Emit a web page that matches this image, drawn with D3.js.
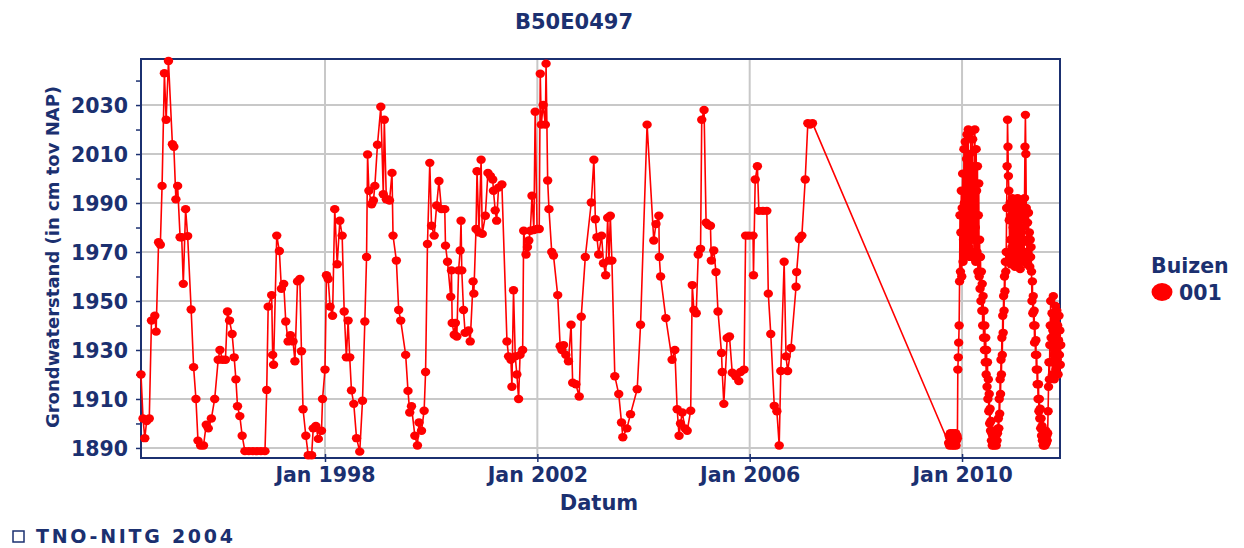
<!DOCTYPE html>
<html>
<head>
<meta charset="utf-8">
<script src="https://cdn.jsdelivr.net/npm/d3@7"></script>
<style>
  html, body { margin: 0; padding: 0; background: #ffffff; }
  svg { display: block; }
  text { font-family: "DejaVu Sans", Verdana, sans-serif; font-weight: bold; fill: #1b3070; }
</style>
</head>
<body>
<svg id="chart" width="1244" height="548"></svg>
<script>
// ---------------- data ----------------
const chartTitle = "B50E0497";
const xAxisTitle = "Datum";
const yAxisTitle = "Grondwaterstand (in cm tov NAP)";
const legendTitle = "Buizen";
const seriesName = "001";
const footerText = "TNO-NITG 2004";

const xTickDates = ["1998-01-01", "2002-01-01", "2006-01-01", "2010-01-01"];
const yTickValues = [1890, 1900, 1910, 1920, 1930, 1940, 1950, 1960, 1970, 1980, 1990, 2000, 2010, 2020, 2030, 2040];
const yLabelValues = [1890, 1910, 1930, 1950, 1970, 1990, 2010, 2030];

// manual measurements 1994 - 2007
const manualDates = [
"1994-07-15","1994-07-29","1994-08-10","1994-08-23","1994-09-10","1994-09-25","1994-10-18","1994-10-27","1994-11-13","1994-11-25",
"1994-12-07","1994-12-23","1995-01-04","1995-01-20","1995-02-16","1995-02-26","1995-03-12","1995-03-24","1995-04-10","1995-04-21",
"1995-05-02","1995-05-18","1995-06-01","1995-06-25","1995-07-12","1995-07-28","1995-08-11","1995-08-29","1995-09-18","1995-10-07",
"1995-10-21","1995-11-11","1995-12-04","1995-12-28","1996-01-09","1996-01-26","1996-02-16","1996-03-01","1996-03-15","1996-04-02",
"1996-04-16","1996-04-28","1996-05-09","1996-05-25","1996-06-10","1996-06-29","1996-07-26","1996-08-23","1996-09-20","1996-10-17",
"1996-11-14","1996-11-26","1996-12-06","1996-12-30","1997-01-06","1997-01-12","1997-02-03","1997-02-21","1997-03-07","1997-03-23",
"1997-04-06","1997-04-22","1997-05-08","1997-05-26","1997-06-08","1997-06-26","1997-07-12","1997-07-23","1997-08-03","1997-08-22",
"1997-09-08","1997-10-01","1997-10-12","1997-10-30","1997-11-16","1997-12-08","1997-12-15","1998-01-01","1998-01-11","1998-01-23",
"1998-02-05","1998-02-22","1998-03-09","1998-03-26","1998-04-13","1998-04-29","1998-05-13","1998-05-28","1998-06-09","1998-06-20",
"1998-07-02","1998-07-18","1998-08-06","1998-08-28","1998-09-16","1998-10-02","1998-10-14","1998-10-21","1998-10-30","1998-11-18",
"1998-11-30","1998-12-10","1998-12-28","1999-01-20","1999-02-06","1999-02-13","1999-02-27","1999-03-10","1999-03-21","1999-04-07",
"1999-04-14","1999-05-07","1999-05-23","1999-06-06","1999-07-10","1999-07-26","1999-08-07","1999-08-19","1999-09-11","1999-09-29",
"1999-10-10","1999-10-27","1999-11-14","1999-11-24","1999-12-07","1999-12-23","2000-01-04","2000-01-22","2000-02-08","2000-02-24",
"2000-03-12","2000-04-04","2000-04-09","2000-04-23","2000-05-15","2000-05-20","2000-05-25","2000-06-08","2000-06-16","2000-06-26",
"2000-07-08","2000-07-19","2000-07-25","2000-07-30","2000-08-11","2000-08-22","2000-09-15","2000-09-26","2000-10-16","2000-10-21",
"2000-11-05","2000-11-12","2000-11-25","2000-12-10","2000-12-18","2001-01-08","2001-01-26","2001-02-12","2001-02-28","2001-03-05",
"2001-03-17","2001-03-27","2001-04-09","2001-05-02","2001-06-06","2001-06-17","2001-07-03","2001-07-10","2001-07-21","2001-08-02",
"2001-08-13","2001-08-25","2001-09-04","2001-09-22","2001-09-29","2001-10-15","2001-10-25","2001-11-03","2001-11-14","2001-11-25",
"2001-12-08","2001-12-17","2001-12-30","2002-01-14","2002-01-21","2002-01-28","2002-02-10","2002-02-25","2002-03-02","2002-03-13",
"2002-03-22","2002-04-10","2002-04-22","2002-05-21","2002-06-07","2002-06-19","2002-06-30","2002-07-16","2002-08-03","2002-08-21",
"2002-09-01","2002-09-23","2002-10-16","2002-10-30","2002-11-27","2003-01-07","2003-01-25","2003-02-04","2003-02-15","2003-02-27",
"2003-03-19","2003-04-01","2003-04-16","2003-04-30","2003-05-09","2003-05-18","2003-05-29","2003-06-18","2003-07-15","2003-08-03",
"2003-08-12","2003-09-09","2003-10-04","2003-11-19","2003-12-12","2004-01-26","2004-03-12","2004-03-27","2004-04-16","2004-04-19",
"2004-04-28","2004-06-03","2004-07-16","2004-08-04","2004-08-20","2004-09-02","2004-09-12","2004-09-24","2004-10-13","2004-10-28",
"2004-11-21","2004-12-02","2004-12-13","2004-12-29","2005-01-12","2005-01-28","2005-02-05","2005-02-21","2005-03-07","2005-03-22",
"2005-04-06","2005-04-12","2005-04-29","2005-05-14","2005-05-28","2005-06-21","2005-06-26","2005-07-07","2005-07-30","2005-08-15",
"2005-09-03","2005-09-26","2005-10-18","2005-10-30","2005-11-23","2005-12-04","2005-12-26","2006-01-24","2006-01-27","2006-02-08",
"2006-02-23","2006-03-05","2006-04-02","2006-04-29","2006-05-09","2006-05-26","2006-06-19","2006-07-07","2006-07-23","2006-08-03",
"2006-08-26","2006-09-08","2006-09-19","2006-10-12","2006-11-16","2006-11-20","2006-12-08","2006-12-26","2007-01-18","2007-02-05",
"2007-02-20","2007-03-09"
];
const manualValues = [
1920,1902,1894,1901,1902,1942,1944,1937.5,1974,1973,
1997,2043,2024,2048,2014,2013,1991.5,1997,1976,1976,
1957,1987.5,1976.5,1946.5,1923,1910,1893,1891,1891,1899.5,
1898,1902,1910,1926,1930,1926,1926,1945.7,1942,1936.5,
1927,1918,1907,1903,1895,1888.7,1888.7,1888.7,1888.7,1888.7,
1888.7,1913.7,1947.7,1952.4,1928,1924,1976.7,1970.4,1955,1957,
1941.6,1933.5,1936,1933.5,1925.4,1958,1959,1929.5,1905.8,1895,
1887,1887,1898,1899,1893.7,1897,1910,1922,1960.5,1959,
1947.7,1944,1987.5,1965,1982.8,1976.7,1945.7,1927,1942,1927,
1913.5,1908,1894,1888.5,1909.3,1941.6,1968,2009.8,1995,1989.5,
1991,1997,2013.8,2029.3,1993.6,2024,1991.5,1991.5,1991,2002.3,
1976.7,1966.5,1946.3,1942,1928,1913.3,1904.5,1907,1895,1891,
1900.4,1897,1905.2,1921,1973.3,2006.4,1980.7,1976.7,1989,1999,
1987.5,1987.5,1972.6,1966,1951.7,1962.5,1941,1936.2,1941,1935.5,
1962.5,1970.6,1982.8,1962.5,1946.3,1937,1938,1933.5,1958,1953,
1979.4,2003,1978,2007.7,1977.4,1984.8,2002.3,2001,1999.6,1995,
1987,1982.8,1996.3,1997.6,1933.5,1927.4,1926,1915,1954.4,1927.4,
1920,1910,1928,1930,1978.7,1969,1972,1974.7,1978.7,1993,
1979,2027.3,1979.4,1979.4,2042.8,2022,2030,2022,2046.9,1999.2,
1987.5,1970,1968.6,1952.4,1931.5,1930,1932,1928,1925.4,1940.3,
1916.6,1916,1911,1943.6,1968,1990.2,2007.7,1983.4,1976,1969,
1976.7,1965.4,1960.5,1984,1966.5,1984.8,1966.5,1919.3,1912,1900.4,
1894.4,1898,1903.8,1914,1940.3,2022,1974.7,1981.4,1984.8,1968,
1960,1943,1926,1930,1905.8,1895,1900,1904.5,1898,1897,
1905.2,1956.5,1946.3,1945,1969,1971.3,2024,2028,1982,1981,
1980.7,1966.5,1970.6,1961.8,1945.7,1928.8,1921,1908,1934.9,1935.5,
1920.7,1919.3,1917.3,1921,1922,1976.7,1976.7,1976.7,1960.5,1999.6,
2005,1986.8,1986.8,1986.8,1953,1936.5,1907.2,1905,1891,1921.4,
1966,1927.4,1921.4,1930.8,1955.8,1961.8,1975.3,1976.7,1999.6,2022.6,
2022,2022.6
];

// logger measurements 2009 - 2011 (one reading every 3 days)
const loggerStart = "2009-10-01";
const loggerStepDays = 3;
const loggerValues = [
1892,1895,1891,1894,1896,1892,1893,1895,1891,1894,1896,1893,1891,1895,1892,1894,1896,1891,1893,1895,1894,
1922,1927,1933,1940,
1958,1985,1962,1978,1995,1960,1988,2002,1966,1975,2012,1990,1968,2015,1982,1970,2008,2018,1975,1995,
2020,1972,1985,2010,1968,2000,2019,1978,1970,1992,2016,1975,2005,1968,1988,2020,1980,1966,2012,1995,
1970,2005,1962,1985,1998,1960,
1975,1955,1968,1950,1962,1946,1957,1940,1952,1935,1946,1930,1940,1925,1935,1920,1930,1915,1925,1910,
1918,1905,1912,1900,1906,1897,1901,
1893,1896,1891,1895,1892,1897,1891,1894,1896,1892,1895,1891,1897,1893,1896,1898,
1902,1898,1910,1904,1918,1912,1926,1920,1935,1928,1944,1937,1952,1946,1960,1954,1966,1962,
1970,1988,2005,2024,2013,2001,1995,1983,1968,1990,1975,1965,1985,1972,1992,1966,1980,1988,1970,1976,
1964,1990,1978,1968,1985,1973,1992,1965,1982,1970,1988,1975,1963,1986,1971,1990,1968,1980,1974,1966,
1984,1970,1992,2013,2026,2010,1988,1975,1965,1982,1970,1986,1968,1978,1964,1975,1968,1972,
1962,1950,1958,1945,1952,1940,1946,1933,1940,1928,1934,1922,1928,1916,1922,1910,1916,1905,1910,1902,
1906,1898,1902,1895,1899,1893,1897,1891,1895,1892,
1896,1891,1894,1897,1892,1895,1893,1896,
1905,1915,1925,1918,1932,1940,1950,1935,1925,1945,1920,1938,1952,1928,1918,1942,1930,1948,1922,1936,
1946,1926,1940,1920,1934,1944,1928,1938,1924,1932
];

// ---------------- layout ----------------
const plot = { left: 141, right: 1060, top: 59, bottom: 458 };
const navy = "#1b3070";
const red = "#ff0000";
const gridColor = "#c8c8c8";

const parse = d3.utcParse("%Y-%m-%d");
const points = manualDates.map((d, i) => ({ date: parse(d), value: manualValues[i] }));
const lStart = parse(loggerStart);
loggerValues.forEach((v, i) => {
  points.push({ date: d3.utcDay.offset(lStart, i * loggerStepDays), value: v });
});

const x = d3.scaleUtc()
  .domain([parse("1994-07-15"), parse("2011-11-06")])
  .range([plot.left, plot.right]);
const y = d3.scaleLinear()
  .domain([1885.9, 2048.8])
  .range([plot.bottom, plot.top]);

const svg = d3.select("#chart");

// grid
const g = svg.append("g");
g.selectAll("line.hgrid").data(yLabelValues).join("line")
  .attr("x1", plot.left).attr("x2", plot.right)
  .attr("y1", d => y(d)).attr("y2", d => y(d))
  .attr("stroke", gridColor).attr("stroke-width", 2);
g.selectAll("line.vgrid").data(xTickDates.map(parse)).join("line")
  .attr("x1", d => x(d)).attr("x2", d => x(d))
  .attr("y1", plot.top).attr("y2", plot.bottom)
  .attr("stroke", gridColor).attr("stroke-width", 2);

// frame
svg.append("rect")
  .attr("x", plot.left).attr("y", plot.top)
  .attr("width", plot.right - plot.left).attr("height", plot.bottom - plot.top)
  .attr("fill", "none").attr("stroke", navy).attr("stroke-width", 2);

// y axis
const yAxis = d3.axisLeft(y)
  .tickValues(yTickValues)
  .tickSize(5)
  .tickPadding(8)
  .tickFormat(d => yLabelValues.includes(d) ? String(d) : "");
const ya = svg.append("g").attr("transform", `translate(${plot.left},0)`).call(yAxis);
ya.select(".domain").remove();
ya.selectAll(".tick line").attr("stroke", navy).attr("stroke-width", 1.5);
ya.selectAll(".tick text")
  .style("font-family", '"DejaVu Sans", Verdana, sans-serif')
  .style("font-weight", "bold").style("font-size", "20.5px").attr("fill", navy)
  .attr("dy", "0.36em");

// x axis
const xAxis = d3.axisBottom(x)
  .tickValues(xTickDates.map(parse))
  .tickSizeInner(4).tickSizeOuter(0)
  .tickPadding(8)
  .tickFormat(d3.utcFormat("Jan %Y"));
const xa = svg.append("g").attr("transform", `translate(0,${plot.bottom})`).call(xAxis);
xa.select(".domain").remove();
xa.selectAll(".tick line").attr("stroke", navy).attr("stroke-width", 1.5).attr("y1", -4);
xa.selectAll(".tick text")
  .style("font-family", '"DejaVu Sans", Verdana, sans-serif')
  .style("font-weight", "bold").style("font-size", "20.5px").attr("fill", navy)
  .attr("y", 9);

// series
const line = d3.line().x(d => x(d.date)).y(d => y(d.value));
svg.append("path").datum(points)
  .attr("d", line)
  .attr("fill", "none").attr("stroke", red).attr("stroke-width", 1.6)
  .attr("stroke-linejoin", "round");
svg.append("g").selectAll("ellipse").data(points).join("ellipse")
  .attr("cx", d => x(d.date)).attr("cy", d => y(d.value))
  .attr("rx", 4.7).attr("ry", 4.2)
  .attr("fill", red);

// title
svg.append("text").attr("x", 574).attr("y", 29).attr("text-anchor", "middle")
  .style("font-size", "21px").text(chartTitle);
// axis titles
svg.append("text").attr("x", 599).attr("y", 510).attr("text-anchor", "middle")
  .style("font-size", "21px").text(xAxisTitle);
svg.append("text").attr("transform", "translate(59,257) rotate(-90)")
  .attr("text-anchor", "middle").style("font-size", "18px").text(yAxisTitle);

// legend
svg.append("text").attr("x", 1151).attr("y", 273).style("font-size", "20.5px").text(legendTitle);
svg.append("ellipse").attr("cx", 1162).attr("cy", 292).attr("rx", 10.5).attr("ry", 9).attr("fill", red);
svg.append("text").attr("x", 1179).attr("y", 300).style("font-size", "20.5px").text(seriesName);

// footer
svg.append("rect").attr("x", 13).attr("y", 531).attr("width", 11).attr("height", 11)
  .attr("fill", "none").attr("stroke", navy).attr("stroke-width", 1.5);
svg.append("text").attr("x", 36).attr("y", 543).style("font-size", "19px")
  .attr("textLength", 197).attr("lengthAdjust", "spacing").text(footerText);
</script>
</body>
</html>
